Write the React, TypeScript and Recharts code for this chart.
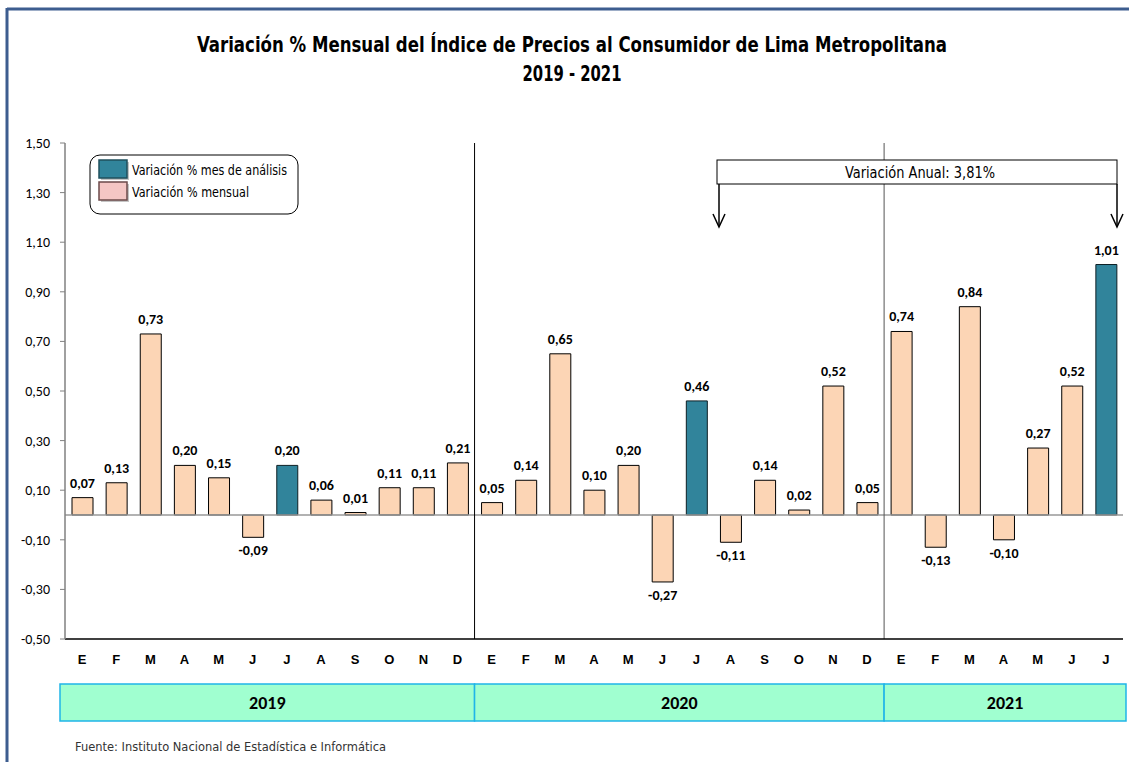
import React from "react";
import { Bar, BarChart, Cell, LabelList, ReferenceLine, XAxis, YAxis } from "recharts";

const months = ["E", "F", "M", "A", "M", "J", "J", "A", "S", "O", "N", "D"];
const years = ["2019", "2020", "2021"];
const values2019 = [0.07, 0.13, 0.73, 0.2, 0.15, -0.09, 0.2, 0.06, 0.01, 0.11, 0.11, 0.21];
const values2020 = [0.05, 0.14, 0.65, 0.1, 0.2, -0.27, 0.46, -0.11, 0.14, 0.02, 0.52, 0.05];
const values2021 = [0.74, -0.13, 0.84, -0.1, 0.27, 0.52, 1.01];
const analysisMonth = 6; // julio
const yTicks = [-0.5, -0.3, -0.1, 0.1, 0.3, 0.5, 0.7, 0.9, 1.1, 1.3, 1.5];

const seriesByYear = [values2019, values2020, values2021];

const data = seriesByYear.flatMap((vals, yi) =>
  vals.map((v, mi) => ({
    key: `${years[yi]}-${mi}`,
    month: months[mi],
    value: v,
    highlight: mi === analysisMonth,
  }))
);

const W = 1129;
const H = 762;
const plotLeft = 65;
const plotRight = 1123;
const plotTop = 143;
const plotBottom = 639;
const catW = (plotRight - plotLeft) / data.length;

const narrow = "'Liberation Sans Narrow', 'DejaVu Sans Condensed', 'Liberation Sans', sans-serif";
const calibri = "Carlito, Lato, 'Open Sans', sans-serif";

const PEACH = "#FCD5B5";
const TEAL = "#31849B";

const fmt = (v: number) => v.toFixed(2).replace(".", ",");

function BarLabel(props: any) {
  const { x, y, width, height, value } = props;
  const top = Math.min(y, y + height);
  const bottom = Math.max(y, y + height);
  const neg = value < 0;
  return (
    <text
      x={x + width / 2}
      y={neg ? bottom + 18 : top - 10}
      textAnchor="middle"
      fontFamily={calibri}
      fontWeight="bold"
      fontSize={14}
      fill="#000"
    >
      {fmt(value)}
    </text>
  );
}

function Overlay() {
  let cum = 0;
  const bands = seriesByYear.map((vals, i) => {
    const start = i === 0 ? 60 : plotLeft + cum * catW;
    cum += vals.length;
    const end = i === seriesByYear.length - 1 ? 1126 : plotLeft + cum * catW;
    return { year: years[i], start, end };
  });

  return (
    <svg
      width={W}
      height={H}
      style={{ position: "absolute", left: 0, top: 0, pointerEvents: "none" }}
    >
      {/* marco */}
      <line x1={7} y1={9} x2={W} y2={9} stroke="#3d5d8f" strokeWidth={3} />
      <line x1={7} y1={8} x2={7} y2={H} stroke="#3d5d8f" strokeWidth={3} />

      {/* titulo */}
      <text
        x={572}
        y={52}
        textAnchor="middle"
        fontFamily={narrow}
        fontWeight="bold"
        fontSize={22}
        textLength={750}
        lengthAdjust="spacingAndGlyphs"
      >
        Variación % Mensual del Índice de Precios al Consumidor de Lima Metropolitana
      </text>
      <text
        x={572}
        y={81}
        textAnchor="middle"
        fontFamily={narrow}
        fontWeight="bold"
        fontSize={22}
        textLength={99}
        lengthAdjust="spacingAndGlyphs"
      >
        2019 - 2021
      </text>

      {/* leyenda */}
      <rect x={90} y={155} width={208} height={59} rx={10} fill="#fff" stroke="#000" strokeWidth={1} />
      <rect x={101} y={162} width={28} height={18} fill="#555" opacity={0.35} />
      <rect x={99} y={160} width={28} height={18} fill={TEAL} stroke="#1f4f5c" strokeWidth={1.5} />
      <rect x={101} y={184} width={28} height={18} fill="#555" opacity={0.35} />
      <rect x={99} y={182} width={28} height={18} fill="#F4C6C4" stroke="#6b4a4a" strokeWidth={1.5} />
      <text x={132} y={175} fontFamily={narrow} fontSize={14} textLength={155} lengthAdjust="spacingAndGlyphs">
        Variación % mes de análisis
      </text>
      <text x={132} y={197} fontFamily={narrow} fontSize={14} textLength={117} lengthAdjust="spacingAndGlyphs">
        Variación % mensual
      </text>

      {/* variacion anual */}
      <rect x={717} y={160} width={400} height={24} fill="#fff" stroke="#000" strokeWidth={1} />
      <text
        x={920}
        y={178}
        textAnchor="middle"
        fontFamily={narrow}
        fontSize={16}
        textLength={150}
        lengthAdjust="spacingAndGlyphs"
      >
        Variación Anual: 3,81%
      </text>
      <line x1={719} y1={184} x2={719} y2={226} stroke="#000" strokeWidth={1.5} />
      <polyline points="713,214 719,227 725,214" fill="none" stroke="#000" strokeWidth={1.5} />
      <line x1={1117} y1={184} x2={1117} y2={226} stroke="#000" strokeWidth={1.5} />
      <polyline points="1111,214 1117,227 1123,214" fill="none" stroke="#000" strokeWidth={1.5} />

      {/* bandas de años */}
      {bands.map((b) => (
        <g key={b.year}>
          <rect
            x={b.start}
            y={684}
            width={b.end - b.start}
            height={37}
            fill="#A0FFD0"
            stroke="#1FB5E8"
            strokeWidth={1.5}
          />
          <text
            x={(b.start + b.end) / 2}
            y={709}
            textAnchor="middle"
            fontFamily={calibri}
            fontWeight="bold"
            fontSize={18}
          >
            {b.year}
          </text>
        </g>
      ))}

      {/* fuente */}
      <text x={75} y={751} fontFamily={narrow} fontSize={13} fill="#333" textLength={311} lengthAdjust="spacingAndGlyphs">
        Fuente: Instituto Nacional de Estadística e Informática
      </text>
    </svg>
  );
}

export default function App() {
  return (
    <div style={{ position: "absolute", left: 0, top: 0, width: W, height: H, background: "#fff" }}>
      <BarChart
        width={W}
        height={H}
        data={data}
        margin={{ top: plotTop, right: W - plotRight, bottom: H - plotBottom - 30, left: 0 }}
      >
        <XAxis
          dataKey="key"
          interval={0}
          tickLine={false}
          tickSize={8}
          tickMargin={8}
          height={30}
          axisLine={{ stroke: "#000", strokeWidth: 1.5 }}
          tickFormatter={(k: string) => months[Number(k.split("-")[1])]}
          tick={{ fill: "#000", fontSize: 13, fontWeight: "bold", fontFamily: "'Liberation Sans', Arial, sans-serif" }}
        />
        <XAxis
          xAxisId="top"
          dataKey="key"
          orientation="top"
          height={0}
          tick={false}
          tickLine={false}
          axisLine={{ stroke: "#000", strokeWidth: 1.5 }}
        />
        <YAxis
          domain={[-0.5, 1.5]}
          ticks={yTicks}
          width={plotLeft}
          tickSize={5}
          tickMargin={10}
          interval={0}
          tickFormatter={(v: number) => fmt(v)}
          axisLine={{ stroke: "#808080", strokeWidth: 1.5 }}
          tickLine={{ stroke: "#808080" }}
          tick={{ fill: "#000", fontSize: 14, fontFamily: calibri }}
        />
        <YAxis
          yAxisId="right"
          orientation="right"
          width={0}
          tick={false}
          tickLine={false}
          axisLine={{ stroke: "#000", strokeWidth: 1.5 }}
        />
        <ReferenceLine y={0} stroke="#999" strokeWidth={1.5} />
        <ReferenceLine x="2020-0" position="start" stroke="#000" strokeWidth={1} />
        <ReferenceLine x="2021-0" position="start" stroke="#555" strokeWidth={1} />
        <Bar dataKey="value" barSize={21} isAnimationActive={false} stroke="#000" strokeWidth={1}>
          {data.map((d) => (
            <Cell key={d.key} fill={d.highlight ? TEAL : PEACH} stroke={d.highlight ? "#0d1f24" : "#000"} />
          ))}
          <LabelList dataKey="value" content={<BarLabel />} />
        </Bar>
      </BarChart>
      <Overlay />
    </div>
  );
}
